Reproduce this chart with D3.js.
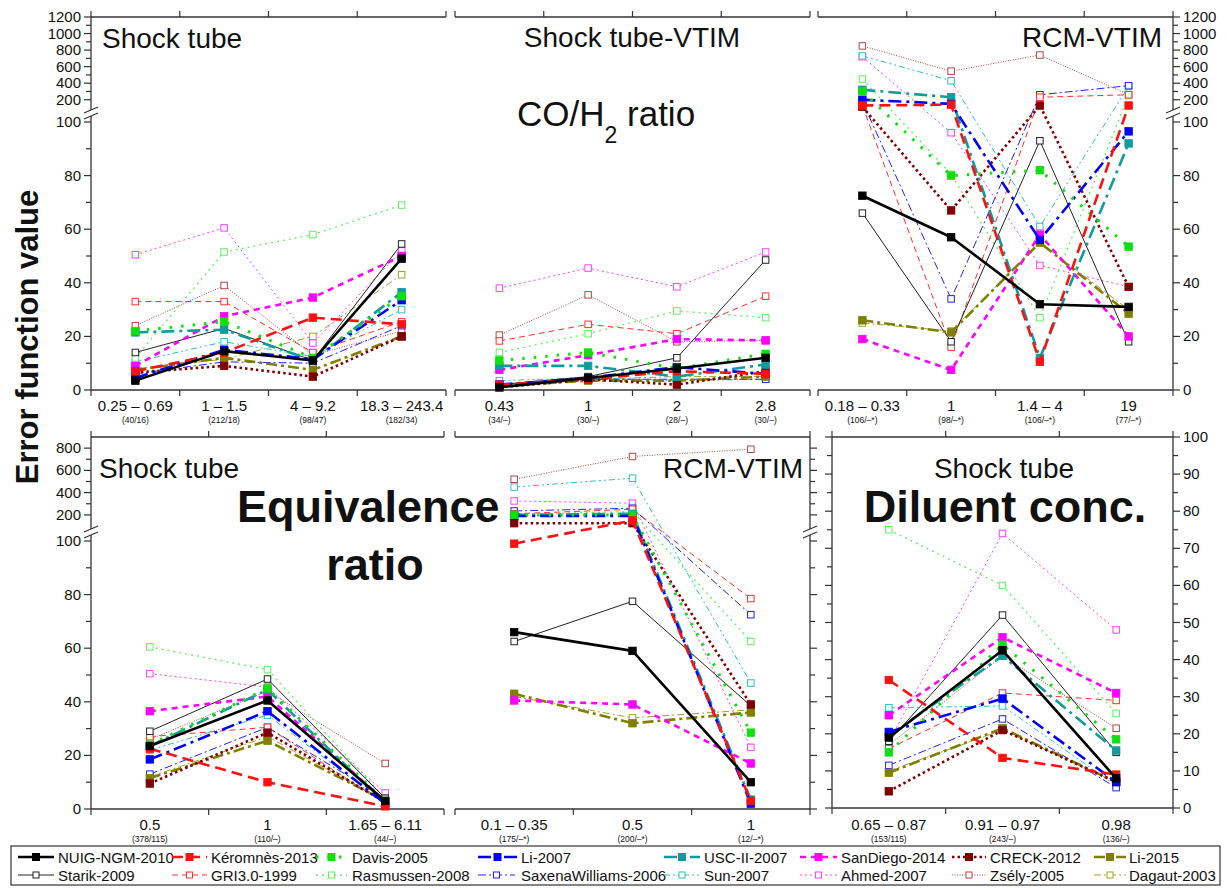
<!DOCTYPE html>
<html><head><meta charset="utf-8">
<script src="https://cdn.jsdelivr.net/npm/d3@7"></script>
<style>
body{margin:0;background:#fff}
svg{display:block}
text{font-family:"Liberation Sans",Arial,Helvetica,sans-serif;fill:#111}
</style></head><body><svg id="c" width="1227" height="888"></svg>
<script>
// ---------------- DATA ----------------
const seriesNames = ["NUIG-NGM-2010","Kéromnès-2013","Davis-2005","Li-2007","USC-II-2007","SanDiego-2014","CRECK-2012","Li-2015",
  "Starik-2009","GRI3.0-1999","Rasmussen-2008","SaxenaWilliams-2006","Sun-2007","Ahmed-2007","Zsély-2005","Dagaut-2003"];

const catsCoShock = ["0.25 – 0.69","1 – 1.5","4 – 9.2","18.3 – 243.4"];
const subsCoShock = ["(40/16)","(212/18)","(98/47)","(182/34)"];
const catsCoVtim = ["0.43","1","2","2.8"];
const subsCoVtim = ["(34/–)","(30/–)","(28/–)","(30/–)"];
const catsCoRcm = ["0.18 – 0.33","1","1.4 – 4","19"];
const subsCoRcm = ["(106/–*)","(98/–*)","(106/–*)","(77/–*)"];
const catsEqShock = ["0.5","1","1.65 – 6.11"];
const subsEqShock = ["(378/115)","(110/–)","(44/–)"];
const catsEqRcm = ["0.1 – 0.35","0.5","1"];
const subsEqRcm = ["(175/–*)","(200/–*)","(12/–*)"];
const catsDil = ["0.65 – 0.87","0.91 – 0.97","0.98"];
const subsDil = ["(153/115)","(243/–)","(136/–)"];

// rows follow seriesNames order
const valCoShock = [
  [3.5,14.5,11,49],[7,14,27,24.5],[22,25.5,12,35],[4.5,15,11.5,33.5],[21.5,22.5,11,36.5],[9,27.5,34.5,50],[6.5,9,5,20],[7.5,12,7.5,20],
  [14,23,11,54.5],[33,33,14,25.5],[12,51.5,58,69],[6,10.5,10,24],[10.5,18,12.5,30],[50.5,60.5,17.5,52],[24,39,13,22],[8,11.5,20,43]];
const valCoVtim = [
  [1,4.5,8,12],[2,4,7,6],[11,14,8,13.5],[2,4.5,8.5,6],[9,9,5,9.5],[7.5,13,19,18.5],[1,4,2,7],[1.5,3.5,3.5,5],
  [2,5,12,48.5],[18.3,24.5,21,35],[14,21,29.5,27],[2,4,4,4],[3.5,4.5,3.5,4],[38,45.5,38.5,51.5],[20.5,35.5,18,18.5],[2,4,5,5]];
const valCoRcm = [
  [72.5,57,32,31],[130,140,10.5,130],[300,80,82,53.5],[200,150,56,96.5],[320,230,12,92],[19,7.5,58,20],[115,67,130,38.5],[26,21.5,55,28.5],
  [66,18,93,18],[130,16,230,260],[450,80.5,27,250],[180,34,260,370],[730,430,61,360],[720,96,46.5,38.5],[850,545,740,260],[25,22,55,30]];
const valEqShock = [
  [23.5,40.5,3],[22.5,10,1],[24,45,3],[18.5,36.5,2],[23.5,44.5,2],[36.5,42,3],[9.5,28.5,2.5],[11.5,25.5,3],
  [29,48.5,4],[27,30.5,2],[60.5,52,4],[13,30.5,4],[22,35,2],[50.5,45.5,6],[26,44,17],[12,27,3]];
const valEqRcm = [
  [66,59,10],[99,150,3],[200,200,28.5],[190,190,2],[200,210,3.5],[40.5,39,17],[125,125,39],[43,32,36],
  [62.5,77.5,38.5],[210,250,78.5],[205,230,62.5],[235,260,72.5],[450,530,47],[325,305,23],[520,725,790],[42,34,37]];
const valDil = [
  [19,42.5,8],[34.5,13.5,9],[15,44,18.5],[20.5,29.5,7],[19.5,41,15.5],[25,46,31],[4.5,21,7],[9.5,21.5,7],
  [18,52,15],[16,31,29],[75,60,25.5],[11.5,24,5.5],[27,27.5,6],[18,74,48],[17,41,21.5],[10,21,7]];

const ticksLowMajor = [0,20,40,60,80,100];
const ticksLowMinor = [10,30,50,70,90];
const ticksTopUpMajor = [200,400,600,800,1000,1200];
const ticksTopUpMinor = [300,500,700,900,1100];
const ticksBotUpMajor = [200,400,600,800];
const ticksBotUpMinor = [300,500,700];
const ticksDilMajor = [0,10,20,30,40,50,60,70,80,90,100];
const ticksDilMinor = [5,15,25,35,45,55,65,75,85,95];

// ---------------- STYLES ----------------
const styles = [
  {c:"#000000", w:2.6, d:null, f:true},
  {c:"#ff1010", w:2.6, d:"11,6", f:true},
  {c:"#10e010", w:3, d:"2.5,9", f:true},
  {c:"#0000ff", w:2.6, d:"13,5,3,5", f:true},
  {c:"#109c9c", w:2.6, d:"13,5,3,5", f:true},
  {c:"#ff00ff", w:2.6, d:"6,5", f:true},
  {c:"#800000", w:2.6, d:"2.5,3", f:true},
  {c:"#808000", w:2.6, d:"11,4,3,4", f:true},
  {c:"#222222", w:1, d:null, f:false},
  {c:"#ff3030", w:1, d:"6,4", f:false},
  {c:"#60f060", w:1.3, d:"2,4", f:false},
  {c:"#2020ff", w:1, d:"8,3,2,3", f:false},
  {c:"#30c0c0", w:1, d:"6,3,2,3,2,3", f:false},
  {c:"#ff40ff", w:1, d:"2,3", f:false},
  {c:"#b04848", w:1, d:"1,1.5", f:false},
  {c:"#a0a030", w:1, d:"7,3,2,3", f:false}
];

const svg = d3.select("#c");
const g = svg.append("g");
const AX = "#333";

function breakScale(low, up){
  return v => v <= 100 ? low(v) : up(v);
}

// top row scales
const topLow = d3.scaleLinear([0,100],[390,122]);
const topUp = d3.scaleLinear([100,1200],[108,17]);
const topY = breakScale(topLow, topUp);
// bottom row scales
const botLow = d3.scaleLinear([0,100],[809,541]);
const botUp = d3.scaleLinear([100,900],[526,437]);
const botY = breakScale(botLow, botUp);
const dilY = d3.scaleLinear([0,100],[808,437]);

function hline(x1,x2,y){ g.append("line").attr("x1",x1).attr("x2",x2).attr("y1",y).attr("y2",y).attr("stroke",AX).attr("stroke-width",1.3); }
function vline(x,y1,y2){ g.append("line").attr("x1",x).attr("x2",x).attr("y1",y1).attr("y2",y2).attr("stroke",AX).attr("stroke-width",1.3); }
function tick(x1,y1,x2,y2){ g.append("line").attr("x1",x1).attr("x2",x2).attr("y1",y1).attr("y2",y2).attr("stroke",AX).attr("stroke-width",1.2); }

function drawPanel(cats, subs, vals, x0, x1, yFn, yTop, yBot, labY){
  const x = d3.scaleBand(cats, [x0, x1]);
  const bw = x.bandwidth();
  const cx = c => x(c) + bw/2;
  hline(x0, x1, yTop); hline(x0, x1, yBot);
  const bounds = [x0].concat(cats.slice(1).map(c => x(c))).concat([x1]);
  bounds.forEach(b => { tick(b, yBot, b, yBot+6); tick(b, yTop, b, yTop-6); });
  g.selectAll(null).data(cats).enter().append("text")
    .attr("x", cx).attr("y", labY).attr("text-anchor","middle").attr("font-size",15).text(d=>d);
  g.selectAll(null).data(subs).enter().append("text")
    .attr("x", (d,i)=>cx(cats[i])).attr("y", labY+12).attr("text-anchor","middle").attr("font-size",8.5).text(d=>d);
  const line = d3.line().x(d=>d[0]).y(d=>d[1]);
  for (let i = seriesNames.length-1; i >= 0; i--){
    const s = styles[i];
    const pts = cats.map((c,j)=>[cx(c), yFn(vals[i][j])]);
    g.append("path").attr("d", line(pts)).attr("fill","none").attr("stroke", s.c)
      .attr("stroke-width", s.w).attr("stroke-dasharray", s.d).attr("stroke-linejoin","round");
    const sz = s.f ? 7.5 : 6.5;
    g.selectAll(null).data(pts).enter().append("rect")
      .attr("x", d=>d[0]-sz/2).attr("y", d=>d[1]-sz/2).attr("width", sz).attr("height", sz)
      .attr("fill", s.f ? s.c : "#fff").attr("stroke", s.c).attr("stroke-width", s.f ? 0.8 : 1);
  }
}

function breakAxis(x, low, up, lowMajor, lowMinor, upMajor, upMinor, side, labels, top, bot, brk){
  const dir = side === "left" ? -1 : 1;
  vline(x, top, brk-3); vline(x, brk+3, bot);
  [brk-3, brk+3].forEach(yy => tick(x-7, yy+3, x+7, yy-3));
  lowMajor.forEach(v => tick(x, low(v), x+dir*7, low(v)));
  lowMinor.forEach(v => tick(x, low(v), x+dir*5, low(v)));
  upMajor.forEach(v => tick(x, up(v), x+dir*7, up(v)));
  upMinor.forEach(v => tick(x, up(v), x+dir*5, up(v)));
  if (labels){
    const anchor = side === "left" ? "end" : "start";
    const lx = x + dir*10;
    lowMajor.forEach(v => g.append("text").attr("x",lx).attr("y",low(v)+5).attr("text-anchor",anchor).attr("font-size",15).text(v));
    upMajor.forEach(v => g.append("text").attr("x",lx).attr("y",up(v)+5).attr("text-anchor",anchor).attr("font-size",15).text(v));
  }
}

// ---------- TOP ROW ----------
drawPanel(catsCoShock, subsCoShock, valCoShock, 91, 446, topY, 17, 390, 411);
drawPanel(catsCoVtim, subsCoVtim, valCoVtim, 455, 810, topY, 17, 390, 411);
drawPanel(catsCoRcm, subsCoRcm, valCoRcm, 818, 1173, topY, 17, 390, 411);
breakAxis(91, topLow, topUp, ticksLowMajor, ticksLowMinor, ticksTopUpMajor, ticksTopUpMinor, "left", true, 17, 390, 113);
breakAxis(1173, topLow, topUp, ticksLowMajor, ticksLowMinor, ticksTopUpMajor, ticksTopUpMinor, "right", true, 17, 390, 113);

// ---------- BOTTOM ROW ----------
drawPanel(catsEqShock, subsEqShock, valEqShock, 91, 444, botY, 437, 809, 830);
drawPanel(catsEqRcm, subsEqRcm, valEqRcm, 455, 810, botY, 437, 809, 830);
drawPanel(catsDil, subsDil, valDil, 832, 1173, dilY, 437, 808, 830);
breakAxis(91, botLow, botUp, ticksLowMajor, ticksLowMinor, ticksBotUpMajor, ticksBotUpMinor, "left", true, 437, 809, 532);
breakAxis(810, botLow, botUp, ticksLowMajor, ticksLowMinor, ticksBotUpMajor, ticksBotUpMinor, "right", false, 437, 809, 532);
vline(832, 437, 808); vline(1173, 437, 808);
ticksDilMajor.forEach(v => { tick(832, dilY(v), 825, dilY(v)); tick(1173, dilY(v), 1180, dilY(v));
  g.append("text").attr("x",1183).attr("y",dilY(v)+5).attr("font-size",15).text(v); });
ticksDilMinor.forEach(v => { tick(832, dilY(v), 827, dilY(v)); tick(1173, dilY(v), 1178, dilY(v)); });

// ---------- TITLES ----------
function txt(x,y,s,size,anchor,weight){
  return g.append("text").attr("x",x).attr("y",y).attr("font-size",size).attr("text-anchor",anchor||"start")
    .attr("font-weight",weight||"normal").text(s);
}
txt(102,48,"Shock tube",28);
txt(632,47,"Shock tube-VTIM",28,"middle");
txt(1162,47,"RCM-VTIM",28,"end");
const co = g.append("text").attr("x",517).attr("y",126).attr("font-size",35);
co.append("tspan").text("CO/H");
co.append("tspan").attr("dy",17).attr("font-size",23).text("2");
co.append("tspan").attr("dy",-17).text(" ratio");
txt(99,478,"Shock tube",28);
txt(237,522,"Equivalence",45,"start","bold");
txt(375,580,"ratio",45,"middle","bold");
txt(803,478,"RCM-VTIM",28,"end");
txt(1004,478,"Shock tube",28,"middle");
txt(1005,522,"Diluent conc.",45,"middle","bold");

g.append("text").attr("transform","translate(38,337) rotate(-90)").attr("text-anchor","middle")
  .attr("font-size",31).attr("font-weight","bold").text("Error function value");

// ---------- LEGEND ----------
// [sample start, sample end, text x] for each entry
const legendPos = [[18,54,58],[172,207,211],[316,347,352],[478,517,521],[664,700,704],[800,837,841],[952,986,990],[1094,1126,1129],
  [18,54,58],[172,207,211],[316,347,352],[478,515,521],[664,700,704],[800,837,841],[952,986,990],[1094,1126,1129]];
g.append("rect").attr("x",11).attr("y",846).attr("width",1209).attr("height",39).attr("fill","#fff").attr("stroke",AX).attr("stroke-width",1.2);
seriesNames.forEach((name,i)=>{
  const s = styles[i];
  const [a,b,t] = legendPos[i];
  const yy = i < 8 ? 857 : 875;
  g.append("line").attr("x1",a).attr("x2",b).attr("y1",yy).attr("y2",yy).attr("stroke",s.c)
    .attr("stroke-width",s.w).attr("stroke-dasharray",s.d);
  const sz = s.f ? 7 : 6;
  const m = (a+b)/2;
  g.append("rect").attr("x",m-sz/2).attr("y",yy-sz/2).attr("width",sz).attr("height",sz)
    .attr("fill",s.f?s.c:"#fff").attr("stroke",s.c).attr("stroke-width",1);
  g.append("text").attr("x",t).attr("y",yy+5.5).attr("font-size",15).text(name);
});
</script></body></html>
